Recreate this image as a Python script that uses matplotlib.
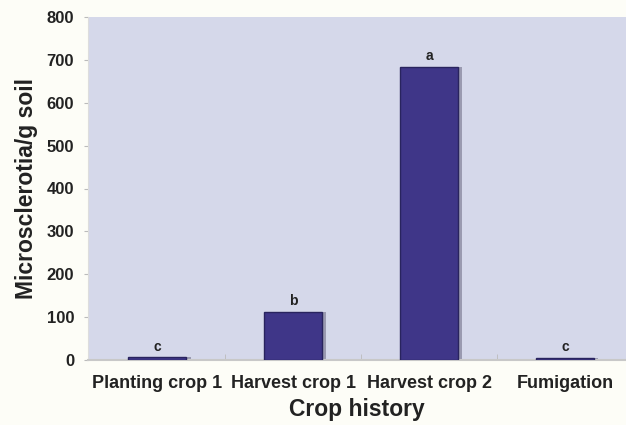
import numpy as np
import matplotlib.pyplot as plt

plt.rcParams['font.family'] = ['Liberation Sans', 'DejaVu Sans']

# Microsclerotia counts by crop history
categories = ['Planting crop 1', 'Harvest crop 1', 'Harvest crop 2', 'Fumigation']
values = [7, 113, 684, 5]
letters = ['c', 'b', 'a', 'c']
yticks = [0, 100, 200, 300, 400, 500, 600, 700, 800]

fig = plt.figure(figsize=(6.26, 4.25), dpi=100)
fig.patch.set_facecolor('#fdfdf7')
ax = fig.add_axes([88 / 626, 65 / 425, 538 / 626, 343 / 425])
ax.set_facecolor('#d5d8ea')

x = np.arange(len(categories))
# soft shadow behind each bar
ax.bar(x + 0.03, values, width=0.43, color='#9a9ab0', zorder=2)
ax.bar(x, values, width=0.43, color='#3f3688', edgecolor='#29245e', linewidth=1.0, zorder=3)

for xi, v, s in zip(x, values, letters):
    ax.text(xi, v + 8, s, ha='center', va='bottom', fontsize=10, fontweight='bold', color='#222222')

ax.set_xlim(-0.51, 3.45)
ax.set_ylim(0, 800)
ax.set_yticks(yticks)
ax.set_yticklabels([str(t) for t in yticks], fontsize=12, fontweight='bold', color='#222222')
ax.set_xticks(x)
ax.set_xticklabels(categories, fontsize=13, fontweight='bold', color='#222222')
ax.set_xticks([0.5, 1.5, 2.5], minor=True)
ax.tick_params(axis='x', which='major', length=0, pad=11)
ax.tick_params(axis='x', which='minor', length=4, color='#bbbbbb', direction='in')
ax.tick_params(axis='y', length=3, color='#bbbbbb', pad=7)

for side in ['top', 'right']:
    ax.spines[side].set_visible(False)
ax.spines['left'].set_color('#dddddd')
ax.spines['bottom'].set_color('#c8c8c8')
ax.spines['bottom'].set_linewidth(1.5)

ax.set_xlabel('Crop history', fontsize=16.5, fontweight='bold', labelpad=4, color='#222222')
ax.set_ylabel('Microsclerotia/g soil', fontsize=16.5, fontweight='bold', labelpad=6, color='#222222')

fig.savefig('out.png', dpi=100, facecolor=fig.get_facecolor())
